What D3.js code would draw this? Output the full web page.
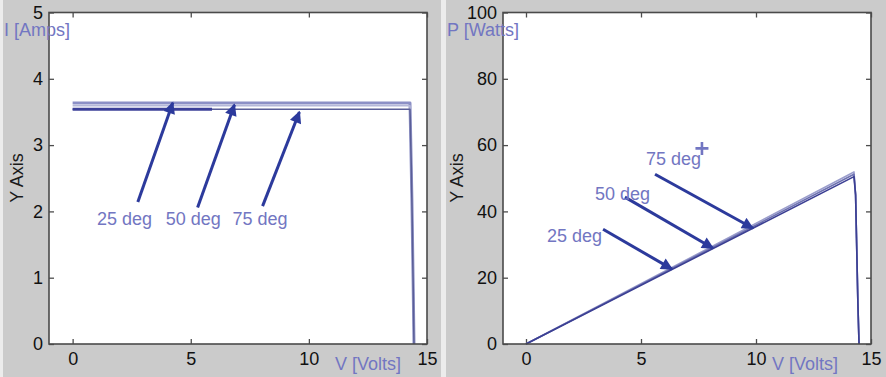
<!DOCTYPE html>
<html>
<head>
<meta charset="utf-8">
<script src="https://cdn.jsdelivr.net/npm/d3@7"></script>
<style>
  html, body { margin: 0; padding: 0; background: #ececec; }
  svg { display: block; }
  text { font-family: "Liberation Sans", Arial, Helvetica, sans-serif; }
</style>
</head>
<body>
<svg id="chart" width="886" height="377"></svg>
<script>
// Tick labels
const xTicks = [0, 5, 10, 15];
const iTicks = [0, 1, 2, 3, 4, 5];
const pTicks = [0, 20, 40, 60, 80, 100];

// Cell temperatures
const temps = ["25 deg", "50 deg", "75 deg"];

// I-V curves: [volts, amps]
const iv25 = [[0, 3.54], [5.9, 3.54], [14.28, 3.54], [14.31, 3.1], [14.36, 2.2], [14.41, 1.0], [14.45, 0]];
const iv50 = [[0, 3.595], [14.28, 3.595], [14.31, 3.1], [14.36, 2.2], [14.41, 1.0], [14.45, 0]];
const iv75 = [[0, 3.635], [14.28, 3.635], [14.31, 3.1], [14.36, 2.2], [14.41, 1.0], [14.45, 0]];

// P-V curves: [volts, watts]
const pv25 = [[0, 0], [14.26, 50.5], [14.33, 45], [14.37, 32], [14.43, 12.3], [14.48, 0]];
const pv50 = [[0, 0], [14.26, 51.2], [14.33, 45], [14.37, 32], [14.43, 12.3], [14.48, 0]];
const pv75 = [[0, 0], [14.26, 51.9], [14.33, 45], [14.37, 32], [14.43, 12.3], [14.48, 0]];

// Annotation arrows in data units: [fromV, fromY, toV, toY]
const ivArrows = [[2.76, 2.14, 4.24, 3.64], [5.29, 2.06, 6.85, 3.61], [8.04, 2.08, 9.6, 3.5]];
const ivLabelPos = [[1.03, 1.79], [3.94, 1.79], [6.77, 1.79]];
const pvArrows = [[3.35, 34.6, 6.35, 22.6], [4.3, 44.3, 8.13, 28.9], [5.61, 51.2, 9.87, 34.9]];
const pvLabelPos = [[0.91, 30.7], [3.0, 43.4], [5.22, 53.9]];
const pvCross = [7.65, 59];

const svg = d3.select("#chart");
const panelGray = "#cbcbcb";
const labelBlue = "#7276c2";
const arrowBlue = "#2c3a9c";

svg.append("rect").attr("x", 3).attr("y", 0).attr("width", 438).attr("height", 377).attr("fill", panelGray);
svg.append("rect").attr("x", 446).attr("y", 0).attr("width", 440).attr("height", 377).attr("fill", panelGray);

const defs = svg.append("defs");
defs.append("marker")
  .attr("id", "head")
  .attr("viewBox", "0 0 10 10")
  .attr("refX", 9).attr("refY", 5)
  .attr("markerWidth", 4.4).attr("markerHeight", 4)
  .attr("markerUnits", "strokeWidth")
  .attr("orient", "auto")
  .append("path").attr("d", "M0,0 L10,5 L0,10 Z").attr("fill", arrowBlue);

function panel(cfg) {
  const x = d3.scaleLinear().domain([-1, 15]).range([cfg.left, cfg.right]);
  const y = d3.scaleLinear().domain(cfg.yDomain).range([344, 12.5]);
  const g = svg.append("g");

  g.append("rect")
    .attr("x", cfg.left).attr("y", 12.5)
    .attr("width", cfg.right - cfg.left).attr("height", 344 - 12.5)
    .attr("fill", "#ffffff");

  const styleAxis = sel => {
    sel.select(".domain").remove();
    sel.selectAll(".tick line").attr("stroke", "#4d4d4d").attr("stroke-width", 1.3);
    sel.selectAll("text").attr("font-size", 18).attr("fill", "#111");
  };
  const fmt = d3.format("d");

  g.append("g").attr("transform", `translate(0,344)`)
    .call(d3.axisBottom(x).tickValues(xTicks).tickFormat(fmt).tickSizeInner(-5).tickSizeOuter(0).tickPadding(8))
    .call(styleAxis);
  g.append("g").attr("transform", `translate(0,12.5)`)
    .call(d3.axisTop(x).tickValues(xTicks).tickSizeInner(-5).tickSizeOuter(0).tickFormat(""))
    .call(styleAxis);
  g.append("g").attr("transform", `translate(${cfg.left},0)`)
    .call(d3.axisLeft(y).tickValues(cfg.yTicks).tickFormat(fmt).tickSizeInner(-5).tickSizeOuter(0).tickPadding(6))
    .call(styleAxis);
  g.append("g").attr("transform", `translate(${cfg.right},0)`)
    .call(d3.axisRight(y).tickValues(cfg.yTicks).tickSizeInner(-5).tickSizeOuter(0).tickFormat(""))
    .call(styleAxis);

  const line = d3.line().x(d => x(d[0])).y(d => y(d[1]));
  cfg.series.forEach(s => {
    g.append("path").datum(s.data)
      .attr("d", line)
      .attr("fill", "none")
      .attr("stroke", s.color)
      .attr("stroke-width", s.width)
      .attr("stroke-linejoin", "round");
  });
  if (cfg.heavy) {
    g.append("path").datum(cfg.heavy.data)
      .attr("d", line).attr("fill", "none")
      .attr("stroke", cfg.heavy.color).attr("stroke-width", cfg.heavy.width);
  }

  g.append("rect")
    .attr("x", cfg.left).attr("y", 12.5)
    .attr("width", cfg.right - cfg.left).attr("height", 344 - 12.5)
    .attr("fill", "none").attr("stroke", "#4a4a4a").attr("stroke-width", 1.6);

  cfg.arrows.forEach(a => {
    g.append("line")
      .attr("x1", x(a[0])).attr("y1", y(a[1]))
      .attr("x2", x(a[2])).attr("y2", y(a[3]))
      .attr("stroke", arrowBlue).attr("stroke-width", 3)
      .attr("marker-end", "url(#head)");
  });
  cfg.labels.forEach((p, i) => {
    g.append("text").attr("x", x(p[0])).attr("y", y(p[1]))
      .attr("font-size", 18).attr("fill", labelBlue).text(temps[i]);
  });

  g.append("text").attr("x", cfg.yNameX).attr("y", 36)
    .attr("font-size", 18).attr("fill", labelBlue).text(cfg.yName);
  g.append("text").attr("x", cfg.xNameX).attr("y", 370)
    .attr("font-size", 18).attr("fill", labelBlue).text("V [Volts]");
  g.append("text")
    .attr("transform", `translate(${cfg.axisTitleX},178) rotate(-90)`)
    .attr("text-anchor", "middle")
    .attr("font-size", 18).attr("fill", "#1a1a1a").text("Y Axis");

  return { x, y, g };
}

panel({
  left: 49, right: 427, yDomain: [0, 5], yTicks: iTicks,
  series: [
    { data: iv75, color: "#8c90c6", width: 3 },
    { data: iv50, color: "#b4b7d8", width: 1.5 },
    { data: iv25, color: "#5a5e98", width: 1.6 }
  ],
  // the early stretch of the 25 deg trace is drawn heavier
  heavy: { data: iv25.filter(d => d[0] <= 5.9), color: "#3c4099", width: 3 },
  arrows: ivArrows, labels: ivLabelPos,
  yName: "I [Amps]", yNameX: 4, xNameX: 335, axisTitleX: 23
});

const right = panel({
  left: 503, right: 871, yDomain: [0, 100], yTicks: pTicks,
  series: [
    { data: pv75, color: "#9a9dcc", width: 1.6 },
    { data: pv50, color: "#6d71b0", width: 1.6 },
    { data: pv25, color: "#3b3f93", width: 1.6 }
  ],
  arrows: pvArrows, labels: pvLabelPos,
  yName: "P [Watts]", yNameX: 447, xNameX: 772, axisTitleX: 463
});

// Cross marker on the power plot
const cx = right.x(pvCross[0]), cy = right.y(pvCross[1]);
right.g.append("path")
  .attr("d", `M${cx - 6.5},${cy} H${cx + 6.5} M${cx},${cy - 6.5} V${cy + 6.5}`)
  .attr("stroke", labelBlue).attr("stroke-width", 2.6);
</script>
</body>
</html>
